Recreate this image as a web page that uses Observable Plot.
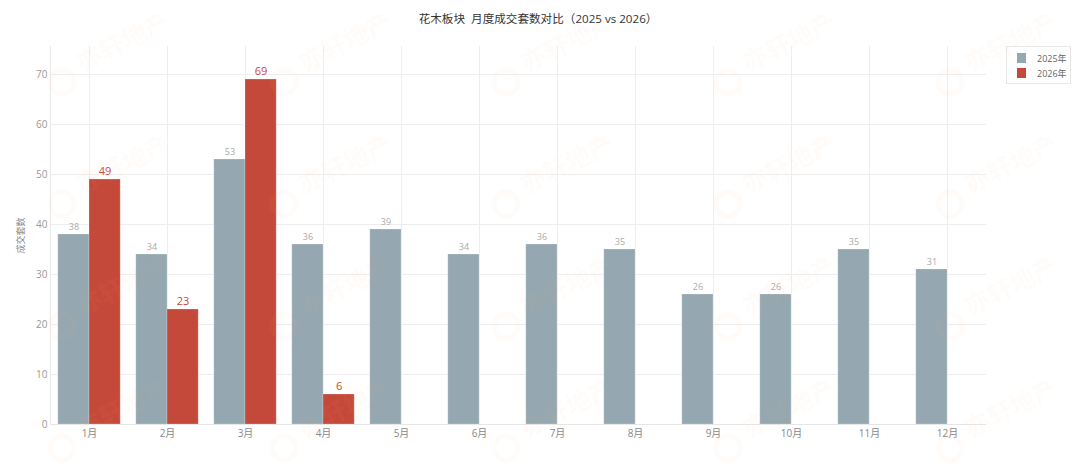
<!DOCTYPE html>
<html lang="zh">
<head>
<meta charset="utf-8">
<script src="https://cdn.jsdelivr.net/npm/d3@7"></script>
<script src="https://cdn.jsdelivr.net/npm/@observablehq/plot@0.6"></script>
<style>
  html, body { margin: 0; padding: 0; background: #fff; overflow: hidden; }
  body { width: 1080px; height: 463px; position: relative; font-family: "Open Sans", "Noto Sans CJK SC", sans-serif; }
  #title { height: 46px; box-sizing: border-box; padding: 10px 4px 0 0; text-align: center; font-size: 11.6px; line-height: 17px; color: #333; white-space: pre; }
  #chart svg { display: block; }
  #legend { position: absolute; left: 1006px; top: 46px; width: 65px; height: 38px; box-sizing: border-box; border: 1px solid #e8e8e8; background: #fff; font-size: 9px; color: #666; }
  #legend div { position: absolute; left: 10px; display: flex; align-items: center; height: 10px; white-space: nowrap; }
  #legend i { display: inline-block; width: 9px; height: 10px; margin-right: 11px; }
  #wm { position: absolute; left: 0; top: 0; pointer-events: none; }
</style>
</head>
<body>
<div id="title">花木板块  月度成交套数对比（2025 vs 2026）</div>
<div id="chart"></div>
<div id="legend">
  <div style="top:6px"><i style="background:#95a7b0"></i>2025年</div>
  <div style="top:21px"><i style="background:#c5493a"></i>2026年</div>
</div>
<svg id="wm" width="1080" height="463">
  <defs>
    <pattern id="tile" patternUnits="userSpaceOnUse" x="40" y="15" width="222" height="122">
      <circle cx="22" cy="67" r="12" fill="none" stroke="#f4a460" stroke-width="5" opacity="0.045"></circle>
      <text x="42" y="57" transform="rotate(-26 42 57)" font-size="25" font-weight="700" fill="#f4a460" opacity="0.045" font-family="'Noto Sans CJK SC'">亦轩地产</text>
    </pattern>
  </defs>
  <rect width="1080" height="463" fill="url(#tile)"></rect>
</svg>
<script>
const months = ["1月","2月","3月","4月","5月","6月","7月","8月","9月","10月","11月","12月"];
const years = ["2025","2026"];
const counts2025 = [38,34,53,36,39,34,36,35,26,26,35,31];
const counts2026 = [49,23,69,6];
const yTicks = [0,10,20,30,40,50,60,70];

const rows2025 = months.map((month,i) => ({month, year:"2025", value:counts2025[i]}));
const rows2026 = counts2026.map((value,i) => ({month:months[i], year:"2026", value}));
const rows = rows2025.concat(rows2026);

const plot = Plot.plot({
  width: 1080,
  height: 417,
  marginTop: 0,
  marginLeft: 50,
  marginRight: 94,
  marginBottom: 39,
  style: {fontFamily: '"Open Sans", "Noto Sans CJK SC", sans-serif', background: "transparent", overflow: "visible"},
  fx: {domain: months, padding: 0, label: null},
  x: {domain: years, paddingInner: 0, paddingOuter: 0.25, round: false, axis: null},
  y: {domain: [0, 75.6]},
  color: {domain: years, range: ["#95a7b0", "#c5493a"]},
  marks: [
    Plot.gridFx({stroke: "#eeeeee", strokeOpacity: 1}),
    Plot.ruleY(yTicks, {stroke: "#eeeeee"}),
    Plot.frame({anchor: "left", facetAnchor: "left", stroke: "#e8e8e8"}),
    Plot.ruleY([0], {stroke: "#e6e6e6"}),
    Plot.barY(rows, {fx: "month", x: "year", y: "value", fill: "year", stroke: "#fff", strokeOpacity: 0.22, strokeWidth: 1}),
    Plot.text(rows2025, {fx: "month", x: "year", y: "value", text: "value", lineAnchor: "bottom", dy: -5, fill: "#aaaaaa", fontSize: 9}),
    Plot.text(rows2026, {fx: "month", x: "year", y: "value", text: "value", lineAnchor: "bottom", dy: -5, fill: "#c5493a", fontSize: 11}),
    Plot.axisY({ticks: yTicks, tickSize: 0, tickPadding: 3, fontSize: 10, color: "#999999", label: null}),
    Plot.axisY({ticks: [], tickSize: 0, fontSize: 9, color: "#888888", label: "成交套数", labelAnchor: "center", labelArrow: "none", labelOffset: 33}),
    Plot.axisFx({tickSize: 0, tickPadding: 5, fontSize: 10, color: "#888888", label: null, anchor: "bottom"})
  ]
});
document.getElementById("chart").appendChild(plot);
</script>
</body>
</html>
